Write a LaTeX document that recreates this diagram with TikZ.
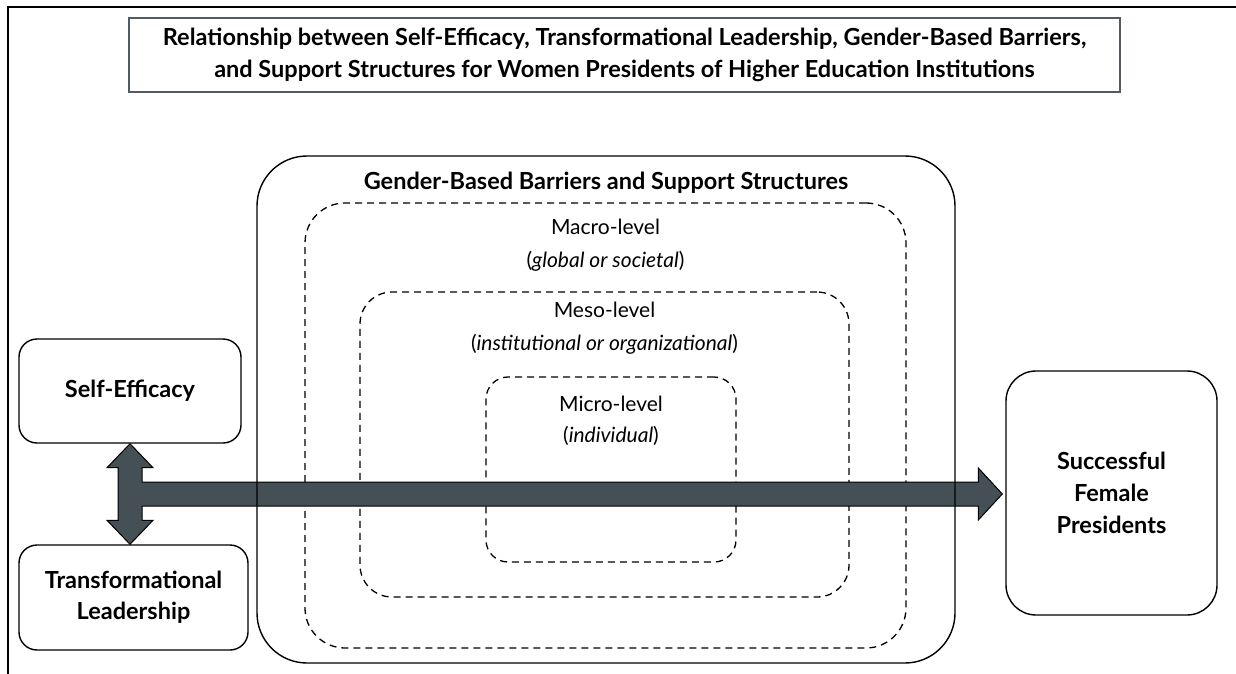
\documentclass[tikz,border=0pt]{standalone}
\usepackage{fontspec}
\setmainfont{Lato}
\usetikzlibrary{calc}
\definecolor{arrowfill}{RGB}{69,80,86}
\definecolor{titleframe}{RGB}{80,92,98}
\begin{document}
\begin{tikzpicture}[x=1pt,y=1pt,
  solidbox/.style={draw=black,line width=1.4pt,rounded corners=#1,inner sep=0pt,align=center},
  solidbox/.default=18pt,
  dashbox/.style={draw=black,line width=1.3pt,dash pattern=on 7pt off 5pt,rounded corners=#1,inner sep=0pt},
  lbl/.style={align=center,inner sep=0pt,font=\fontsize{21}{33}\selectfont},
  boldlbl/.style={align=center,inner sep=0pt,font=\bfseries\fontsize{23.5}{31}\selectfont},
  bigarrow/.style={draw=black,line width=1pt,fill=arrowfill,line join=miter}]
\useasboundingbox (0,0) rectangle (1236,-674);
% frame
\draw[line width=2pt] (8,-674) -- (8,-7) -- (1236,-7);
% title
\node[draw=titleframe,line width=2pt,minimum width=991pt,minimum height=74pt,inner sep=0pt,align=center,
  font=\bfseries\fontsize{23.5}{32}\selectfont] (title) at (624.5,-55)
  {Relationship between Self-Efficacy, Transformational Leadership, Gender-Based Barriers,\\
   and Support Structures for Women Presidents of Higher Education Institutions};
% nested boxes
\node[dashbox=40pt,minimum width=601pt,minimum height=445pt] (macro) at (605.5,-425.5) {};
\node[dashbox=32pt,minimum width=489pt,minimum height=305pt] (meso) at (604.5,-444.5) {};
\node[dashbox=22pt,minimum width=250pt,minimum height=185pt] (micro) at (611,-469.5) {};
\node[lbl] (macrolbl) at (605.5,-245) {Macro-level\\(\textit{global or societal})};
\node[lbl] (mesolbl) at (604.5,-328) {Meso-level\\(\textit{institutional or organizational})};
\node[lbl,font=\fontsize{21}{31}\selectfont] (microlbl) at (611,-421) {Micro-level\\(\textit{individual})};
% side boxes
\node[solidbox=18pt,minimum width=222pt,minimum height=104pt,boldlbl] (se) at (130,-391) {Self-Efficacy};
\node[solidbox=18pt,minimum width=229pt,minimum height=105pt,boldlbl] (tl) at (133.5,-597.5) {Transformational\\Leadership};
\node[solidbox=30pt,minimum width=211pt,minimum height=244pt,boldlbl,font=\bfseries\fontsize{23.5}{32}\selectfont] (sfp) at (1111.5,-493) {Successful\\Female\\Presidents};
% arrow
\draw[bigarrow] let \p1=(se.south), \p2=(se.south |- tl.north), \p3=($(sfp.west)+(-3pt,-1pt)$) in
  (\x1,\y1) -- (\x1+23pt,\y1-24pt) -- (\x1+12pt,\y1-24pt) -- (\x1+12pt,\y3+12pt)
  -- (\x3-24pt,\y3+12pt) -- (\x3-24pt,\y3+26pt) -- (\x3,\y3) -- (\x3-24pt,\y3-26pt)
  -- (\x3-24pt,\y3-12pt) -- (\x1+12pt,\y3-12pt) -- (\x1+12pt,\y2+24pt) -- (\x1+23pt,\y2+24pt)
  -- (\x1,\y2) -- (\x1-23pt,\y2+24pt) -- (\x1-12pt,\y2+24pt) -- (\x1-12pt,\y1-24pt)
  -- (\x1-23pt,\y1-24pt) -- cycle;
% outer box
\node[solidbox=50pt,minimum width=698pt,minimum height=507pt] (gbb) at (606,-409.5) {};
\node[boldlbl] (gbbtitle) at (606,-183) {Gender-Based Barriers and Support Structures};
\end{tikzpicture}
\end{document}
